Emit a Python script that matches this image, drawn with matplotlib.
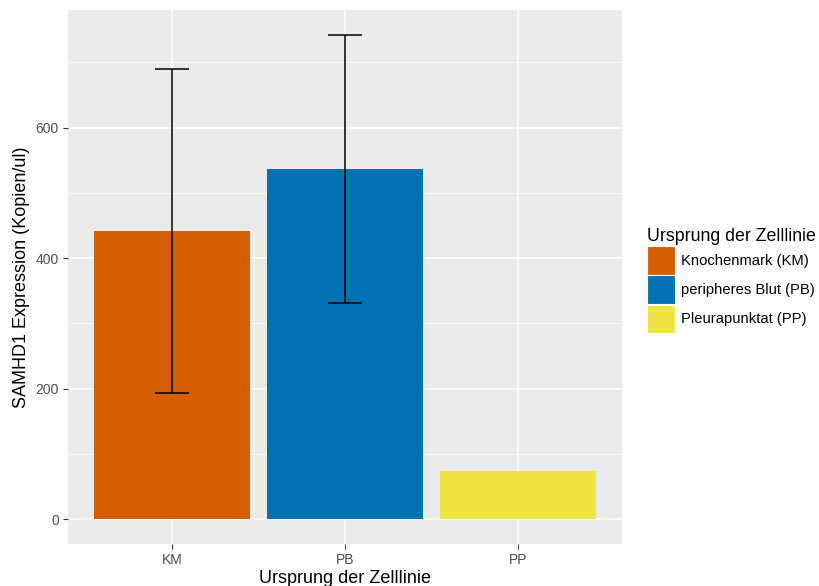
import matplotlib
matplotlib.use("Agg")
import matplotlib.pyplot as plt
import numpy as np
from matplotlib.patches import Patch

plt.rcParams["font.family"] = ["Liberation Sans", "DejaVu Sans"]

# SAMHD1 expression per origin of the cell line (mean +/- SD)
groups = ["KM", "PB", "PP"]
labels = ["Knochenmark (KM)", "peripheres Blut (PB)", "Pleurapunktat (PP)"]
means = [441, 536, 73.5]
sds = [248, 205, np.nan]
colors = ["#D55E00", "#0072B2", "#F0E442"]

fig = plt.figure(figsize=(8.19, 5.86), dpi=100)
ax = fig.add_axes([68 / 819, 1 - 544 / 586, (622 - 68) / 819, (544 - 10) / 586])

ax.set_facecolor("#EBEBEB")
for s in ax.spines.values():
    s.set_visible(False)

x = np.arange(len(groups))
ax.bar(x, means, width=0.9, color=colors, zorder=3)

# error bars (skip groups without spread)
for xi, m, sd in zip(x, means, sds):
    if np.isnan(sd):
        continue
    ax.vlines(xi, m - sd, m + sd, color="black", lw=1.1, zorder=4)
    ax.hlines([m - sd, m + sd], xi - 0.1, xi + 0.1, color="black", lw=1.1, zorder=4)

ax.set_xlim(-0.6, 2.6)
ax.set_ylim(-38, 780)
ax.set_xticks(x)
ax.set_xticklabels(groups)
ax.set_yticks([0, 200, 400, 600])
ax.set_yticks([100, 300, 500, 700], minor=True)

ax.grid(which="major", color="white", lw=1.1, zorder=0)
ax.grid(which="minor", axis="y", color="white", lw=0.55, zorder=0)
ax.set_axisbelow(True)

ax.tick_params(which="major", length=3.5, width=0.8, color="#333333",
               labelcolor="#4D4D4D", labelsize=10, pad=3)
ax.tick_params(which="minor", length=0)

ax.set_xlabel("Ursprung der Zelllinie", fontsize=13, labelpad=2)
ax.set_ylabel("SAMHD1 Expression (Kopien/ul)", fontsize=13, labelpad=4)

handles = [Patch(facecolor=c, edgecolor="white", lw=0.8) for c in colors]
leg = ax.legend(handles, labels, title="Ursprung der Zelllinie",
                loc="upper left", bbox_to_anchor=(640 / 819, 1 - 221 / 586),
                bbox_transform=fig.transFigure, frameon=False, borderpad=0,
                fontsize=10.6, title_fontsize=12.8, handlelength=1.85,
                handleheight=2.6, labelspacing=0.05, handletextpad=0.45,
                alignment="left")

fig.savefig("out.png", dpi=100)
